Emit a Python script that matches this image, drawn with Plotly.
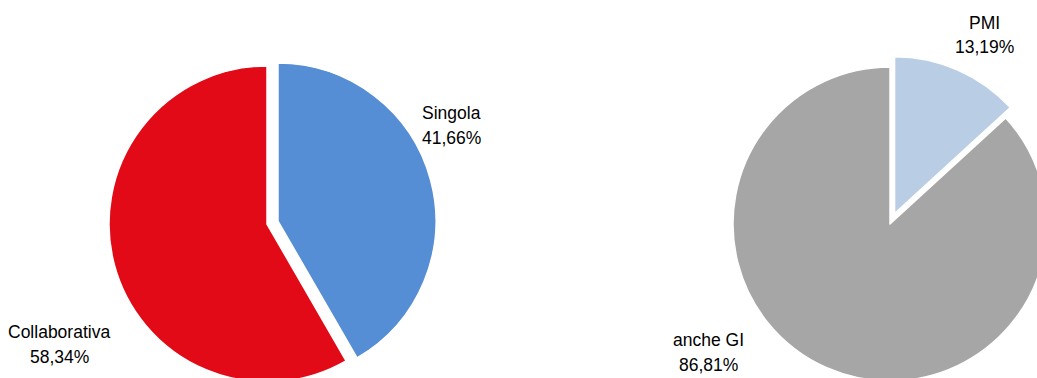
import plotly.graph_objects as go

# Tipo di progetto
left_labels = ["Singola", "Collaborativa"]
left_values = [41.66, 58.34]
left_colors = ["#558ED5", "#E20A17"]

# Dimensione dei partecipanti
right_labels = ["PMI", "anche GI"]
right_values = [13.19, 86.81]
right_colors = ["#B9CDE5", "#A6A6A6"]

W, H = 1100, 450          # canvas in pixels (page shows the top-left 1037x378)
PULL = 0.072
LINE_GAP = 25             # distance between the name line and the value line

FONT = dict(family="Liberation Sans Narrow, Arial Narrow, Liberation Sans, Arial",
            size=17.5, color="#000000")


def domain(cx, cy, r, pull):
    half = r * (1 + pull)
    return dict(x=[(cx - half) / W, (cx + half) / W],
                y=[1 - (cy + half) / H, 1 - (cy - half) / H])


def pct(v):
    return f"{v:.2f}".replace(".", ",") + "%"


fig = go.Figure()
fig.add_trace(go.Pie(
    labels=left_labels, values=left_values, sort=False, direction="clockwise",
    rotation=0, pull=[PULL, 0], textinfo="none", hoverinfo="label+percent",
    marker=dict(colors=left_colors, line=dict(color="white", width=1.5)),
    domain=domain(267, 224, 158, PULL), showlegend=False,
))
fig.add_trace(go.Pie(
    labels=right_labels, values=right_values, sort=False, direction="clockwise",
    rotation=0, pull=[PULL, 0], textinfo="none", hoverinfo="label+percent",
    marker=dict(colors=right_colors, line=dict(color="white", width=1.5)),
    domain=domain(890, 224, 157, PULL), showlegend=False,
))

# centre of each two-line label block, in pixels
label_pos = {
    "Singola": (451, 125),
    "Collaborativa": (59, 344),
    "PMI": (984, 35),
    "anche GI": (708, 352),
}
for labels, values in ((left_labels, left_values), (right_labels, right_values)):
    for lab, val in zip(labels, values):
        px, py = label_pos[lab]
        for text, dy in ((lab, -LINE_GAP / 2), (pct(val), LINE_GAP / 2)):
            fig.add_annotation(
                x=px / W, y=1 - (py + dy) / H, xref="paper", yref="paper",
                xanchor="center", yanchor="middle", showarrow=False,
                text=text, font=FONT, align="center",
            )

fig.update_layout(
    width=W, height=H, margin=dict(l=0, r=0, t=0, b=0),
    paper_bgcolor="white", plot_bgcolor="white",
)

fig.write_html(
    "out.html",
    post_script=(
        "document.documentElement.style.overflow='hidden';"
        "document.body.style.overflow='hidden';"
        "document.body.style.margin='0';"
    ),
)
